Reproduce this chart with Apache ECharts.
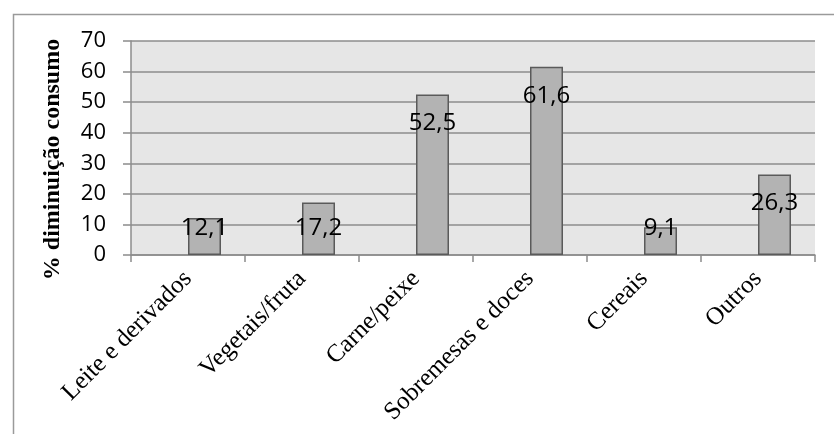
<!DOCTYPE html>
<html>
<head>
<meta charset="utf-8">
<script src="https://cdn.jsdelivr.net/npm/echarts@6/dist/echarts.min.js"></script>
<style>
html,body{margin:0;padding:0;background:#fff;}
#chart{width:834px;height:434px;}
</style>
</head>
<body>
<div id="chart"></div>
<script>
const categories = ['Leite e derivados', 'Vegetais/fruta', 'Carne/peixe', 'Sobremesas e doces', 'Cereais', 'Outros'];
const values = [12.1, 17.2, 52.5, 61.6, 9.1, 26.3];
const emptySeries = [null, null, null, null, null, null];
const yAxisTitle = '% diminuição consumo';
const yMin = 0, yMax = 70, yStep = 10;

const chart = echarts.init(document.getElementById('chart'), null, {renderer: 'canvas'});

function labelFor(v) {
  // tall bars: label inside near top; short bars: label kept near the axis
  if (v < 18.3) {
    return {position: 'insideBottom', distance: 15};
  }
  return {position: 'insideTop', distance: 17};
}

const seriesData = values.map(v => ({value: v, label: labelFor(v)}));

chart.setOption({
  animation: false,
  backgroundColor: '#ffffff',
  graphic: [{
    type: 'rect',
    left: 11, top: 12,
    shape: {width: 900, height: 500},
    style: {fill: 'none', stroke: '#9a9a9a', lineWidth: 1.5},
    z: -10
  }],
  grid: {
    left: 131, right: 19, top: 41, bottom: 179,
    show: true, backgroundColor: '#e6e6e6', borderWidth: 0
  },
  xAxis: {
    type: 'category',
    data: categories,
    axisLine: {show: true, lineStyle: {color: '#8c8c8c', width: 1.5}},
    axisTick: {show: true, length: 7, alignWithLabel: false, lineStyle: {color: '#8c8c8c', width: 1.5}},
    axisLabel: {
      interval: 0, rotate: 45, margin: 20,
      fontFamily: '"Liberation Serif", "Times New Roman", serif',
      fontSize: 25, color: '#000'
    }
  },
  yAxis: {
    type: 'value',
    min: yMin, max: yMax, interval: yStep,
    name: yAxisTitle,
    nameLocation: 'middle',
    nameGap: 66,
    nameRotate: 90,
    nameTextStyle: {
      fontFamily: '"Liberation Serif", "Times New Roman", serif',
      fontWeight: 'bold', fontSize: 24, color: '#000',
      padding: [0, 23, 0, 0]
    },
    axisLine: {show: true, lineStyle: {color: '#8c8c8c', width: 1.5}},
    axisTick: {show: true, length: 8, lineStyle: {color: '#8c8c8c', width: 1.5}},
    splitLine: {show: true, lineStyle: {color: '#8c8c8c', width: 1.5}},
    axisLabel: {
      margin: 25,
      fontFamily: '"Open Sans", sans-serif',
      fontSize: 22, color: '#000'
    }
  },
  series: [{
    type: 'bar',
    name: 'vazio',
    data: emptySeries,
    barWidth: 33,
    barGap: '0%'
  }, {
    type: 'bar',
    name: '% diminuição',
    data: seriesData,
    barWidth: 33,
    barGap: '0%',
    itemStyle: {color: '#b3b3b3', borderColor: '#5a5a5a', borderWidth: 1.5},
    label: {
      show: true,
      fontFamily: '"Open Sans", sans-serif',
      fontSize: 24, color: '#000',
      formatter: p => p.value.toFixed(1).replace('.', ',')
    }
  }]
});
</script>
</body>
</html>
